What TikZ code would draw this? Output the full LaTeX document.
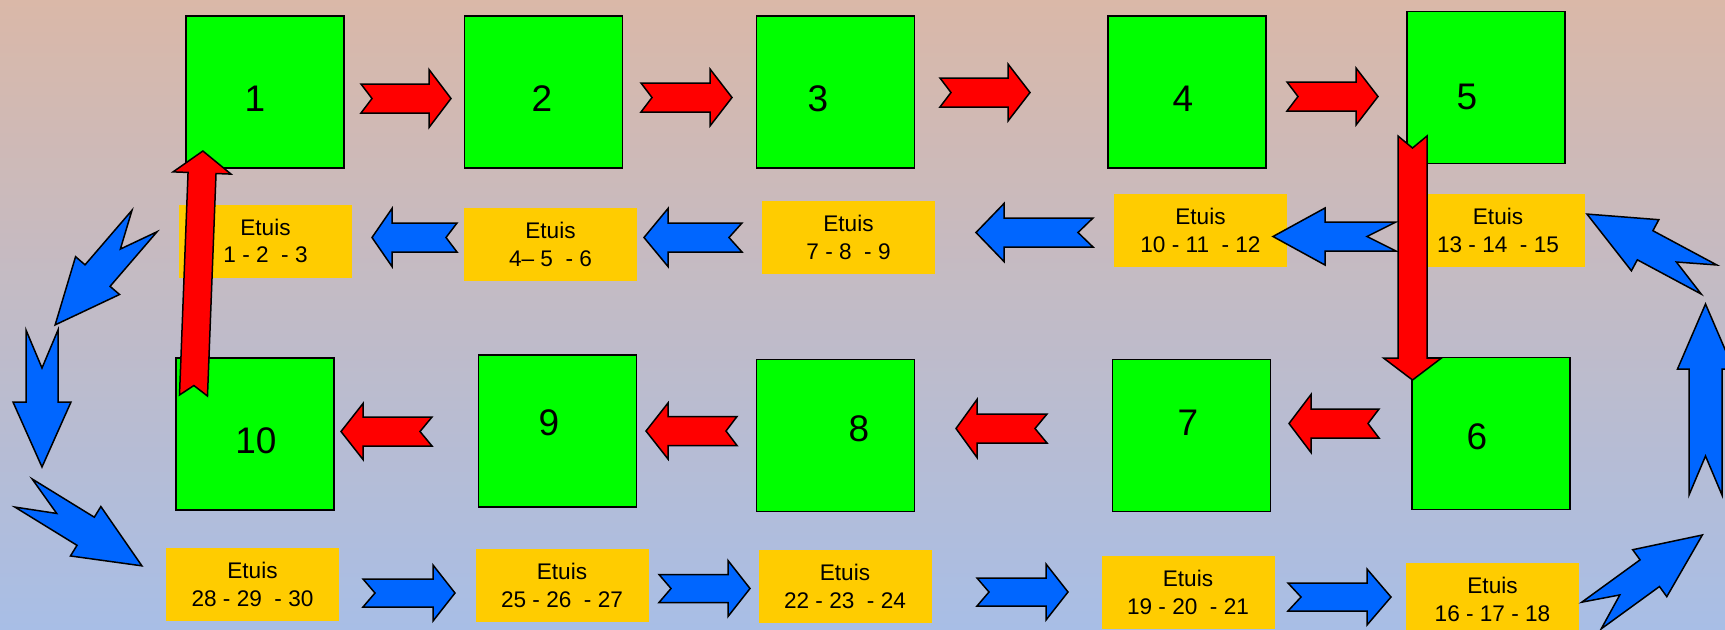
\documentclass[tikz,border=0pt]{standalone}
\usepackage{fontspec}
\setmainfont{Liberation Sans}

\definecolor{bgtop}{RGB}{218,184,168}
\definecolor{bgbot}{RGB}{168,190,230}
\definecolor{boxgreen}{RGB}{0,255,0}
\definecolor{etuiyellow}{RGB}{255,204,0}
\definecolor{arrred}{RGB}{255,0,0}
\definecolor{arrblue}{RGB}{0,102,255}

\tikzset{
  station/.style={draw=black, line width=0.8pt, fill=boxgreen,
    minimum width=79pt, minimum height=76pt, inner sep=0pt},
  stationnum/.style={inner sep=0pt, font=\fontsize{18.5}{22}\selectfont},
  etui/.style={fill=etuiyellow, minimum width=86.5pt, minimum height=36.5pt,
    inner sep=0pt, align=center, font=\fontsize{11.3}{13.9}\selectfont},
  arrowline/.style={draw=black, line width=0.75pt, line join=miter},
}

% notched block arrow:
% #1 fill, #2 tail point, #3 direction, #4 length,
% #5 shaft half width, #6 head half width, #7 head length, #8 notch depth
\newcommand\blockarrow[8]{%
  \begin{scope}[shift={#2}, rotate=#3]
    \draw[arrowline, fill=#1] (0,#5) -- ({#4-#7},#5) -- ({#4-#7},#6) -- (#4,0)
      -- ({#4-#7},-#6) -- ({#4-#7},-#5) -- (0,-#5) -- (#8,0) -- cycle;
  \end{scope}}

\begin{document}
\begin{tikzpicture}[x=0.5pt, y=-0.5pt]
\useasboundingbox (0,0) rectangle (1725,629);
\clip (0,0) rectangle (1725,629);
\shade[top color=bgtop, bottom color=bgbot] (0,0) rectangle (1725,629);

% cases
\node[etui] (e1) at (265.5,241)   {Etuis\\1 - 2~ - 3};
\node[etui] (e2) at (550.5,244.5) {Etuis\\4– 5~ - 6};
\node[etui] (e3) at (848.5,237.5) {Etuis\\7 - 8~ - 9};
\node[etui] (e4) at (1200.5,230.5) {Etuis\\10 - 11~ - 12};
\node[etui] (e5) at (1498,230.5)  {Etuis\\13 - 14~ - 15};
\node[etui] (e6) at (1492.5,599.5) {Etuis\\16 - 17 - 18};
\node[etui] (e7) at (1188,592.5)  {Etuis\\19 - 20~ - 21};
\node[etui] (e8) at (845,586.5)   {Etuis\\22 - 23~ - 24};
\node[etui] (e9) at (562,585.5)   {Etuis\\25 - 26~ - 27};
\node[etui] (e10) at (252.5,584.5) {Etuis\\28 - 29~ - 30};

% stations
\node[station] (s1) at (265,92) {};
\node[station] (s2) at (543.5,92) {};
\node[station] (s3) at (835.5,92) {};
\node[station] (s4) at (1187,92) {};
\node[station] (s5) at (1486,87.5) {};
\node[station] (s6) at (1491,433.5) {};
\node[station] (s7) at (1191.5,435.5) {};
\node[station] (s8) at (835.5,435.5) {};
\node[station] (s9) at (557.5,431) {};
\node[station] (s10) at (255,434) {};

\node[stationnum] (n1) at (255,99) {1};
\node[stationnum] (n2) at (542,99) {2};
\node[stationnum] (n3) at (818,99) {3};
\node[stationnum] (n4) at (1183,99) {4};
\node[stationnum] (n5) at (1467,97) {5};
\node[stationnum] (n6) at (1477,437) {6};
\node[stationnum] (n7) at (1188,423) {7};
\node[stationnum] (n8) at (859,429) {8};
\node[stationnum] (n9) at (549,423) {9};
\node[stationnum] (n10) at (256,441) {10};

% blue flow between the cases
\blockarrow{arrblue}{(457,237.5)}{180}{85}{14.5}{29}{20}{11}
\blockarrow{arrblue}{(742,237.5)}{180}{98}{14.5}{29}{24}{13}
\blockarrow{arrblue}{(1093,232.5)}{180}{117}{14.5}{29}{28}{15}
\blockarrow{arrblue}{(1396,236.5)}{180}{123}{14.5}{28.5}{52}{29}

\blockarrow{arrblue}{(363,593)}{0}{92}{14}{28}{22}{12}
\blockarrow{arrblue}{(659,588.5)}{0}{91}{14}{28}{22}{12}
\blockarrow{arrblue}{(977,592)}{0}{91}{14}{28}{22}{12}
\blockarrow{arrblue}{(1288,597)}{0}{103}{14}{28}{24}{13}

\blockarrow{arrblue}{(144.5,221)}{229.3}{137}{16.5}{29}{65}{37}
\blockarrow{arrblue}{(42,330)}{-90}{137}{16}{29}{65}{38}
\blockarrow{arrblue}{(23.5,493)}{-31.6}{139}{16.5}{29}{66}{39}
\blockarrow{arrblue}{(1591.5,615.5)}{36}{137}{16.5}{29}{65}{35}
\blockarrow{arrblue}{(1705.5,495)}{90}{191}{16.5}{28}{65}{39}
\blockarrow{arrblue}{(1709,279.5)}{151.8}{138.5}{16.5}{29}{66}{37}

% red flow between the stations
\blockarrow{arrred}{(361,98.5)}{0}{90}{14.5}{29}{22}{11}
\blockarrow{arrred}{(641,97.5)}{0}{91}{14.5}{28.5}{22}{11}
\blockarrow{arrred}{(940,92.5)}{0}{90}{14.5}{28.5}{22}{11}
\blockarrow{arrred}{(1287,96.5)}{0}{91}{14.5}{28.5}{22}{11}

\blockarrow{arrred}{(1379,423.5)}{180}{90}{14.5}{29}{22}{11}
\blockarrow{arrred}{(1047,428.5)}{180}{91}{14.5}{29}{21}{12}
\blockarrow{arrred}{(737,431)}{180}{91}{14.5}{28}{22}{11}
\blockarrow{arrred}{(432,431.5)}{180}{91}{14.5}{28}{22}{12}

\blockarrow{arrred}{(1412.5,136)}{-90}{244}{14.5}{29}{22}{12}
\blockarrow{arrred}{(193.5,395.5)}{87.8}{244.7}{14}{29}{22}{10}
\end{tikzpicture}
\end{document}
